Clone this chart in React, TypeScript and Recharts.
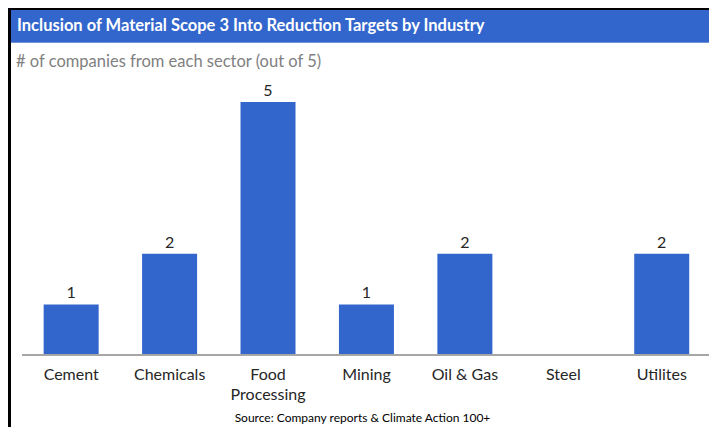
import { BarChart, Bar, XAxis, YAxis, LabelList } from 'recharts'

const categories = ['Cement', 'Chemicals', 'Food\nProcessing', 'Mining', 'Oil & Gas', 'Steel', 'Utilites']
const companies = [1, 2, 5, 1, 2, 0, 2]

const data = categories.map((category, i) => ({ category, companies: companies[i] }))

const FONT = 'Lato, "Open Sans", sans-serif'
const BLUE = '#3366CC'

const CategoryTick = (props: any) => {
  const { x, y, payload } = props
  const lines = String(payload.value).split('\n')
  return (
    <text x={x} y={y} textAnchor="middle" fill="#262626" fontSize={16} fontFamily={FONT}>
      {lines.map((line, i) => (
        <tspan key={i} x={x} dy={i === 0 ? 17 : 20}>
          {line}
        </tspan>
      ))}
    </text>
  )
}

export default function App() {
  return (
    <div
      style={{
        position: 'relative',
        width: 706,
        height: 417,
        borderTop: '2px solid #000',
        borderLeft: '3px solid #000',
        fontFamily: FONT,
      }}
    >
      <div
        style={{
          height: 32,
          background: BLUE,
          borderBottom: '1px solid #6f95dd',
          color: '#fff',
          fontWeight: 700,
          fontSize: 16.5,
          lineHeight: '30px',
          paddingLeft: 6,
        }}
      >
        Inclusion of Material Scope 3 Into Reduction Targets by Industry
      </div>
      <div
        style={{
          position: 'absolute',
          top: 41,
          left: 5,
          color: '#808080',
          fontSize: 16.5,
        }}
      >
        # of companies from each sector (out of 5)
      </div>
      <div style={{ position: 'absolute', top: 33, left: 0 }}>
        <BarChart
          width={706}
          height={384}
          data={data}
          margin={{ top: 59, right: 6, left: 11, bottom: 0 }}
          barCategoryGap="22%"
        >
          <XAxis
            dataKey="category"
            interval={0}
            height={72}
            tickLine={false}
            axisLine={{ stroke: '#A6A6A6', strokeWidth: 2 }}
            tick={<CategoryTick />}
          />
          <YAxis hide domain={[0, 5]} />
          <Bar dataKey="companies" fill={BLUE} isAnimationActive={false}>
            <LabelList
              dataKey="companies"
              position="top"
              offset={6}
              fill="#262626"
              fontSize={16}
              fontFamily={FONT}
              formatter={(v: any) => (v ? v : '')}
            />
          </Bar>
        </BarChart>
      </div>
      <div
        style={{
          position: 'absolute',
          top: 400,
          left: 0,
          width: 703,
          textAlign: 'center',
          fontSize: 12,
          color: '#000',
        }}
      >
        Source: Company reports &amp; Climate Action 100+
      </div>
    </div>
  )
}
